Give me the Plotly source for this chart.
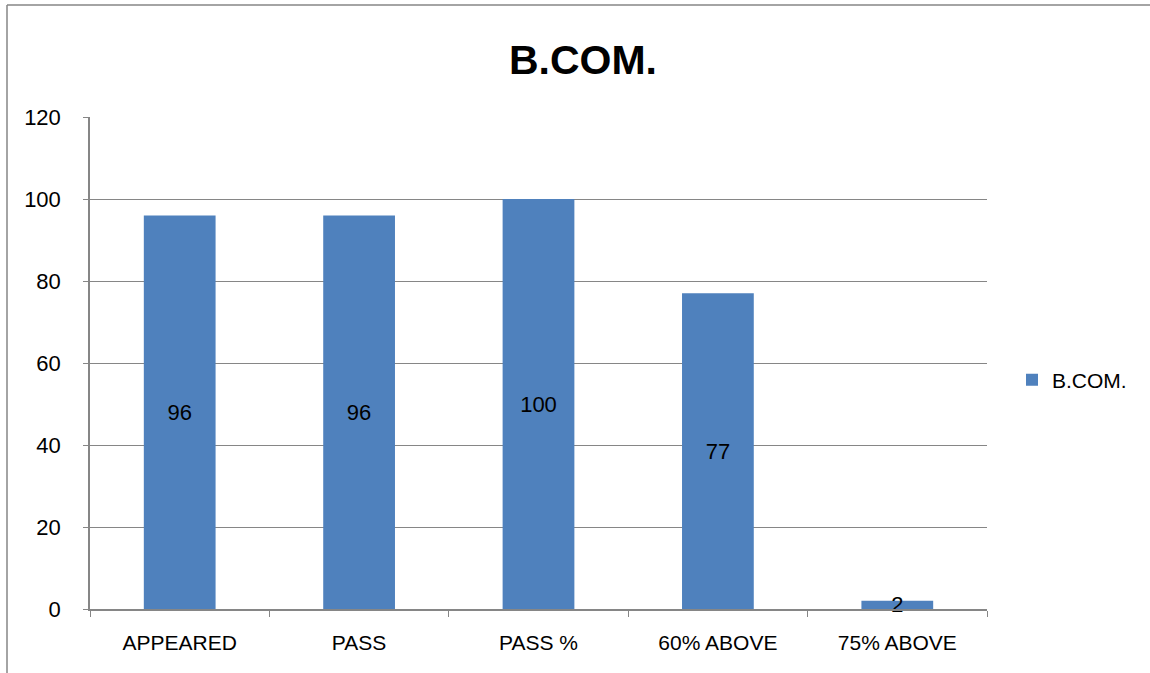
import plotly.graph_objects as go

categories = ["APPEARED", "PASS", "PASS %", "60% ABOVE", "75% ABOVE"]
values = [96, 96, 100, 77, 2]
series_name = "B.COM."
y_ticks = [0, 20, 40, 60, 80, 100, 120]

W, H = 1150, 673
L, R, T, B = 90, 163, 117, 64
pw, ph = W - L - R, H - T - B

def px_x(x):
    return (x - L) / pw

def px_y(y):
    return (H - B - y) / ph

font = "Liberation Sans"
grey = "#868686"

fig = go.Figure()
fig.add_trace(go.Bar(
    x=categories, y=values, name=series_name,
    marker=dict(color="#4F81BD", line=dict(width=0)),
    width=0.4,
    text=[str(v) for v in values],
    textposition="inside", insidetextanchor="middle", textangle=0,
    constraintext="none", cliponaxis=False,
    textfont=dict(family=font, size=22, color="#000000"),
    showlegend=True,
))

fig.update_layout(
    width=W, height=H,
    margin=dict(l=L, r=R, t=T, b=B, autoexpand=False),
    paper_bgcolor="white", plot_bgcolor="white",
    title=dict(text="<b>B.COM.</b>", x=583 / W, xanchor="center",
               y=1 - 60 / H, yanchor="middle",
               font=dict(family=font, size=41, color="#000000")),
    legend=dict(x=px_x(1012), y=px_y(380), xanchor="left", yanchor="middle",
                font=dict(family=font, size=21, color="#000000"),
                bgcolor="rgba(0,0,0,0)", itemwidth=30),
    xaxis=dict(
        type="category", showline=True, linecolor=grey, linewidth=1.5,
        ticks="outside", tickson="boundaries", ticklen=6, tickcolor=grey,
        showgrid=False, ticklabelstandoff=14,
        tickfont=dict(family=font, size=21, color="#000000"),
    ),
    yaxis=dict(
        range=[0, 120], tickvals=y_ticks, showline=True, linecolor=grey, linewidth=1.5,
        ticks="outside", ticklen=5, tickcolor=grey, ticklabelstandoff=18,
        showgrid=True, gridcolor=grey, gridwidth=1, zeroline=False,
        tickfont=dict(family=font, size=22, color="#000000"),
    ),
    bargap=0.6,
)

# outer chart frame (partially cropped in the reference)
fig.add_shape(type="line", xref="paper", yref="paper",
              x0=px_x(7), y0=px_y(5), x1=px_x(1160), y1=px_y(5),
              line=dict(color=grey, width=1.5))
fig.add_shape(type="line", xref="paper", yref="paper",
              x0=px_x(7), y0=px_y(5), x1=px_x(7), y1=px_y(680),
              line=dict(color=grey, width=1.5))

fig.write_html("out.html", config={"displayModeBar": False},
               post_script="document.body.style.margin='0px';")
